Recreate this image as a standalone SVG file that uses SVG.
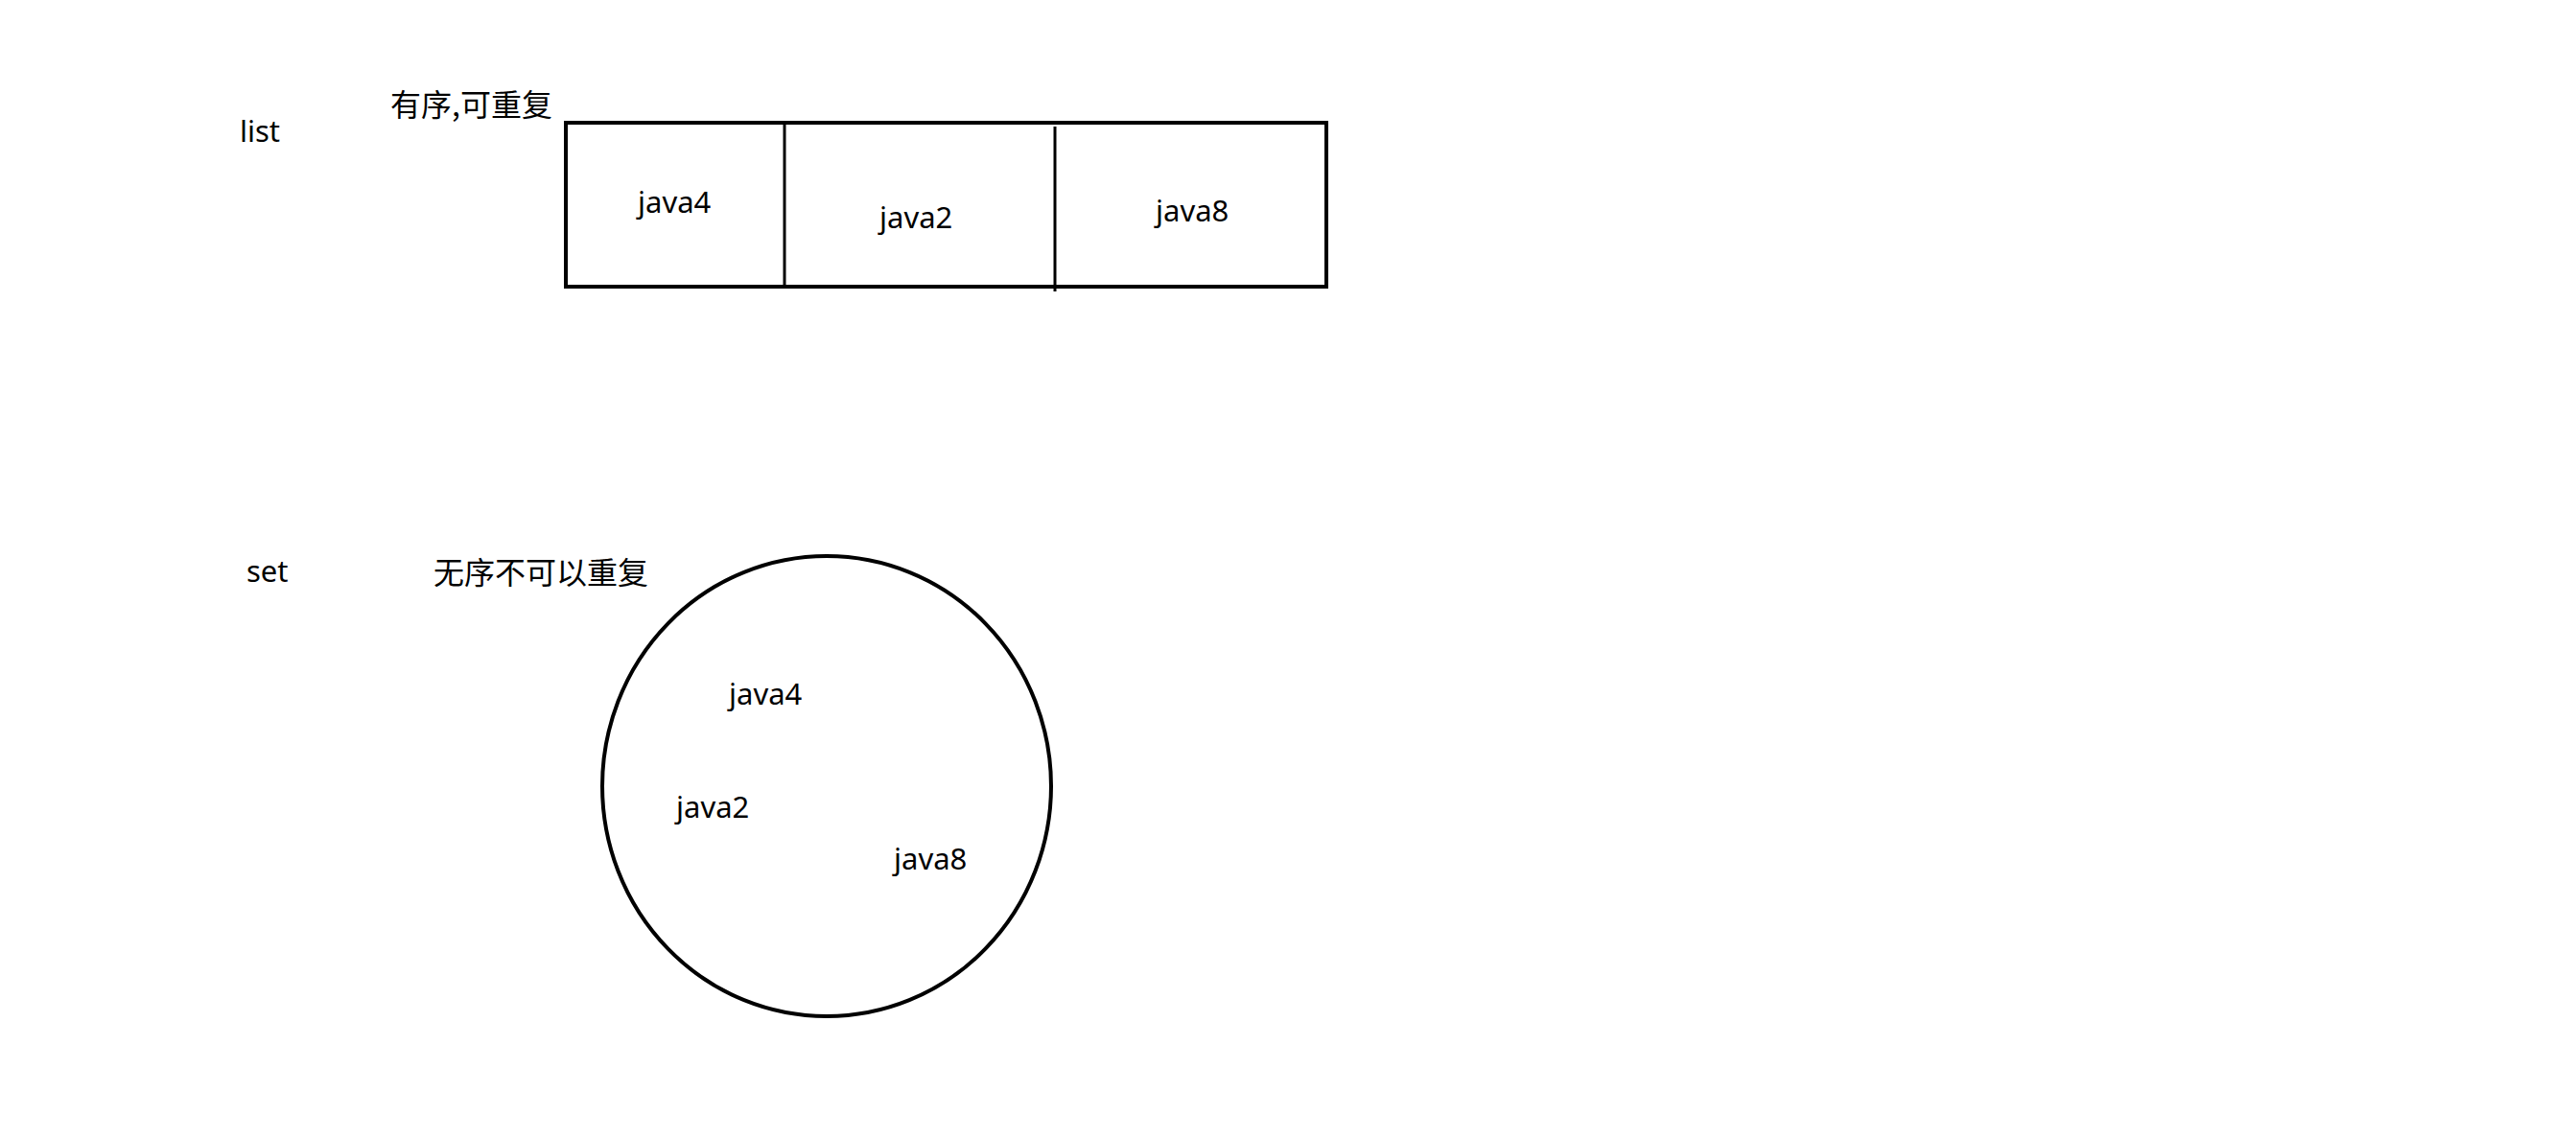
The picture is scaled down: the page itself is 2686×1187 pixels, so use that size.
<svg xmlns="http://www.w3.org/2000/svg" width="2686" height="1187" viewBox="0 0 2686 1187">
<style>
.t{font-family:"Noto Sans","Noto Sans CJK SC",sans-serif;font-size:31px;fill:#000}
.c{font-family:"Noto Sans CJK SC","Noto Sans",sans-serif;font-size:32px;fill:#000}
.s{fill:none;stroke:#000;stroke-width:4}
.d{fill:none;stroke:#000;stroke-width:3}
</style>
<rect width="2686" height="1187" fill="#fff"/>
<g id="list-label"><text class="t" x="250" y="148">list</text></g>
<g id="list-note"><text class="c" x="407" y="121">有序,可重复</text></g>
<g id="list-box">
<rect class="s" x="590" y="128" width="793" height="171"/>
<line class="d" x1="818" y1="128" x2="818" y2="299"/>
<line class="d" x1="1100" y1="132" x2="1100" y2="304"/>
<text class="t" x="665" y="222">java4</text>
<text class="t" x="917" y="238">java2</text>
<text class="t" x="1205" y="231">java8</text>
</g>
<g id="set-label"><text class="t" x="257" y="607">set</text></g>
<g id="set-note"><text class="c" x="452" y="609">无序不可以重复</text></g>
<g id="set-circle">
<ellipse class="s" cx="862" cy="820" rx="234" ry="240"/>
<text class="t" x="760" y="735">java4</text>
<text class="t" x="705" y="853">java2</text>
<text class="t" x="932" y="907">java8</text>
</g>
<g id="connectors"/>
</svg>
